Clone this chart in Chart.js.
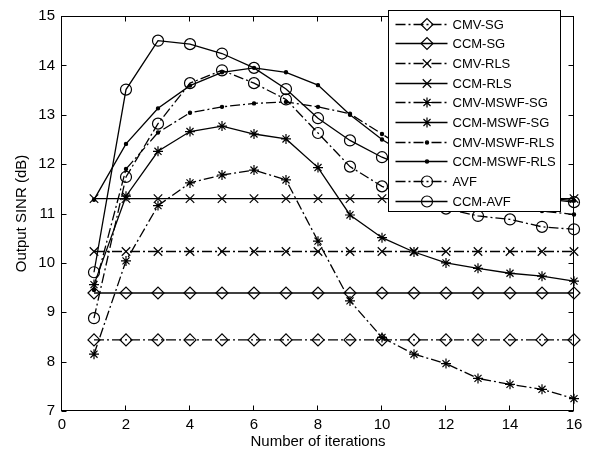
<!DOCTYPE html>
<html>
<head>
<meta charset="utf-8">
<script src="https://cdn.jsdelivr.net/npm/chart.js@4.4.0/dist/chart.umd.min.js"></script>
<style>
    body { margin: 0; background: #fff; }
</style>
</head>
<body>
<canvas id="sinrChart" width="598" height="455"></canvas>
<script>
// Data
const iterations = [1, 2, 3, 4, 5, 6, 7, 8, 9, 10, 11, 12, 13, 14, 15, 16];
const xTicks = [0, 2, 4, 6, 8, 10, 12, 14, 16];
const yTicks = [7, 8, 9, 10, 11, 12, 13, 14, 15];

const cmvSg      = [8.44, 8.44, 8.44, 8.44, 8.44, 8.44, 8.44, 8.44, 8.44, 8.44, 8.44, 8.44, 8.44, 8.44, 8.44, 8.44];
const ccmSg      = [9.39, 9.39, 9.39, 9.39, 9.39, 9.39, 9.39, 9.39, 9.39, 9.39, 9.39, 9.39, 9.39, 9.39, 9.39, 9.39];
const cmvRls     = [10.23, 10.23, 10.23, 10.23, 10.23, 10.23, 10.23, 10.23, 10.23, 10.23, 10.23, 10.23, 10.23, 10.23, 10.23, 10.23];
const ccmRls     = [11.30, 11.30, 11.30, 11.30, 11.30, 11.30, 11.30, 11.30, 11.30, 11.30, 11.30, 11.30, 11.30, 11.30, 11.30, 11.30];
const cmvMswfSg  = [8.15, 10.04, 11.16, 11.62, 11.78, 11.88, 11.68, 10.44, 9.23, 8.49, 8.15, 7.96, 7.66, 7.54, 7.44, 7.25];
const ccmMswfSg  = [9.56, 11.35, 12.26, 12.66, 12.77, 12.61, 12.51, 11.93, 10.97, 10.51, 10.22, 10.00, 9.89, 9.79, 9.73, 9.63];
const cmvMswfRls = [9.45, 11.90, 12.64, 13.04, 13.16, 13.23, 13.26, 13.16, 13.02, 12.61, 12.20, 11.80, 11.50, 11.25, 11.05, 10.98];
const ccmMswfRls = [11.28, 12.41, 13.13, 13.59, 13.86, 13.95, 13.86, 13.60, 13.00, 12.50, 12.10, 11.80, 11.58, 11.42, 11.32, 11.26];
const avf        = [8.88, 11.74, 12.82, 13.64, 13.90, 13.64, 13.31, 12.63, 11.95, 11.55, 11.30, 11.10, 10.95, 10.88, 10.73, 10.68];
const ccmAvf     = [9.81, 13.51, 14.50, 14.43, 14.24, 13.95, 13.52, 12.93, 12.48, 12.14, 11.88, 11.68, 11.52, 11.40, 11.30, 11.23];

const DASH_DOT = [10, 3, 2, 3];
const FONT = "'Liberation Sans', Arial, Helvetica, sans-serif";

function toPoints(values) {
    return iterations.map((x, i) => ({ x: x, y: values[i] }));
}

function makeSeries(label, values, dashed, pointStyle, radius, filled) {
    return {
        label: label,
        data: toPoints(values),
        borderColor: '#000',
        borderWidth: 1.3,
        borderDash: dashed ? DASH_DOT : [],
        tension: 0,
        fill: false,
        clip: false,
        pointStyle: pointStyle,
        pointRadius: radius,
        pointBorderWidth: 1.2,
        pointBorderColor: '#000',
        pointBackgroundColor: filled ? '#000' : 'rgba(0,0,0,0)'
    };
}

const datasets = [
    makeSeries('CMV-SG', cmvSg, true, 'rectRot', 6, false),
    makeSeries('CCM-SG', ccmSg, false, 'rectRot', 6, false),
    makeSeries('CMV-RLS', cmvRls, true, 'crossRot', 6, false),
    makeSeries('CCM-RLS', ccmRls, false, 'crossRot', 6, false),
    makeSeries('CMV-MSWF-SG', cmvMswfSg, true, 'star', 5, false),
    makeSeries('CCM-MSWF-SG', ccmMswfSg, false, 'star', 5, false),
    makeSeries('CMV-MSWF-RLS', cmvMswfRls, true, 'circle', 1.6, true),
    makeSeries('CCM-MSWF-RLS', ccmMswfRls, false, 'circle', 1.6, true),
    makeSeries('AVF', avf, true, 'circle', 5.5, false),
    makeSeries('CCM-AVF', ccmAvf, false, 'circle', 5.5, false)
];

function drawMarker(ctx, ds, x, y) {
    ctx.save();
    ctx.setLineDash([]);
    ctx.lineWidth = ds.pointBorderWidth;
    ctx.strokeStyle = ds.pointBorderColor;
    ctx.fillStyle = ds.pointBackgroundColor;
    Chart.helpers.drawPoint(ctx, {
        pointStyle: ds.pointStyle,
        radius: ds.pointRadius,
        rotation: 0,
        borderWidth: ds.pointBorderWidth
    }, x, y);
    ctx.restore();
}

// Matlab style box, inward ticks and in-plot legend
const matlabFrame = {
    id: 'matlabFrame',
    afterDraw(chart) {
        const ctx = chart.ctx;
        const area = chart.chartArea;
        const xs = chart.scales.x, ys = chart.scales.y;
        const L = Math.round(area.left) - 0.5;
        const R = Math.round(area.right) - 0.5;
        const T = Math.round(area.top) + 0.5;
        const B = Math.round(area.bottom) - 0.5;
        const tl = 5;

        ctx.save();
        ctx.strokeStyle = '#000';
        ctx.lineWidth = 1;
        ctx.setLineDash([]);
        ctx.strokeRect(L, T, R - L, B - T);

        ctx.beginPath();
        xTicks.forEach(v => {
            const px = Math.round(xs.getPixelForValue(v)) - 0.5;
            ctx.moveTo(px, B); ctx.lineTo(px, B - tl);
            ctx.moveTo(px, T); ctx.lineTo(px, T + tl);
        });
        yTicks.forEach(v => {
            const py = Math.round(ys.getPixelForValue(v)) + 0.5;
            ctx.moveTo(L, py); ctx.lineTo(L + tl, py);
            ctx.moveTo(R, py); ctx.lineTo(R - tl, py);
        });
        ctx.stroke();

        // legend box
        const bx = 388.5, by = 10.5, bw = 172, bh = 201;
        ctx.fillStyle = '#fff';
        ctx.fillRect(bx, by, bw, bh);
        ctx.strokeRect(bx, by, bw, bh);

        ctx.font = '13px ' + FONT;
        ctx.textBaseline = 'middle';
        ctx.textAlign = 'left';
        const rowH = 19.7;
        chart.data.datasets.forEach((ds, i) => {
            const y = Math.round(by + 13 + i * rowH) + 0.5;
            ctx.save();
            ctx.strokeStyle = '#000';
            ctx.lineWidth = ds.borderWidth;
            ctx.setLineDash(ds.borderDash);
            ctx.beginPath();
            ctx.moveTo(bx + 7, y);
            ctx.lineTo(bx + 59, y);
            ctx.stroke();
            ctx.restore();
            drawMarker(ctx, ds, bx + 38.5, y);
            ctx.fillStyle = '#000';
            ctx.fillText(ds.label, bx + 64, y + 0.5);
        });
        ctx.restore();
    }
};

const ctx = document.getElementById('sinrChart').getContext('2d');
new Chart(ctx, {
    type: 'line',
    data: { datasets: datasets },
    options: {
        responsive: false,
        animation: false,
        devicePixelRatio: 1,
        layout: { padding: { top: 9, right: 24, left: 0, bottom: 0 } },
        plugins: {
            legend: { display: false },
            tooltip: { enabled: false }
        },
        scales: {
            x: {
                type: 'linear',
                min: 0,
                max: 16,
                afterFit(scale) { scale.height = 44; },
                afterBuildTicks(scale) { scale.ticks = xTicks.map(v => ({ value: v })); },
                grid: { display: false, drawTicks: false },
                border: { display: false },
                ticks: { color: '#000', padding: 5, font: { family: FONT, size: 15 }, maxRotation: 0 },
                title: {
                    display: true,
                    text: 'Number of iterations',
                    color: '#000',
                    font: { family: FONT, size: 15 },
                    padding: { top: 0, bottom: 4 }
                }
            },
            y: {
                type: 'linear',
                min: 7,
                max: 15,
                afterFit(scale) { scale.width = 62; },
                afterBuildTicks(scale) { scale.ticks = yTicks.map(v => ({ value: v })); },
                grid: { display: false, drawTicks: false },
                border: { display: false },
                ticks: { color: '#000', padding: 7, font: { family: FONT, size: 15 } },
                title: {
                    display: true,
                    text: 'Output SINR (dB)',
                    color: '#000',
                    font: { family: FONT, size: 15 },
                    padding: { top: 13, bottom: 0 }
                }
            }
        }
    },
    plugins: [matlabFrame]
});
</script>
</body>
</html>
